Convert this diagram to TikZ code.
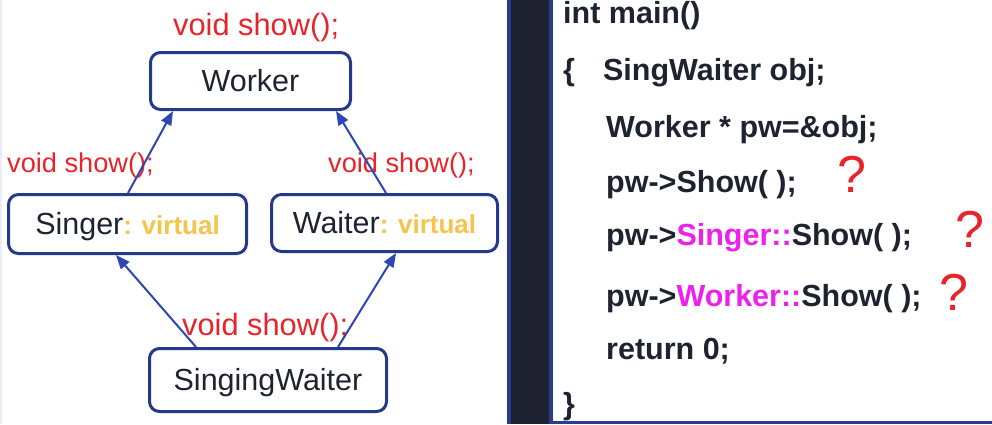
\documentclass[tikz,border=0pt]{standalone}
\usepackage{fontspec}
\setmainfont{Liberation Sans}
\usetikzlibrary{arrows.meta}
\definecolor{boxblue}{RGB}{38,56,140}
\definecolor{arrblue}{RGB}{45,70,180}
\definecolor{labred}{RGB}{232,36,42}
\definecolor{virtyel}{RGB}{245,196,74}
\definecolor{codemag}{RGB}{238,32,238}
\definecolor{txtdark}{RGB}{30,35,48}
\definecolor{banddark}{RGB}{30,34,46}
\definecolor{bandblue}{RGB}{42,58,144}
\definecolor{edgegray}{RGB}{236,236,246}
\tikzset{
 classbox/.style={draw=boxblue, line width=3pt, rounded corners=10pt, fill=white, inner sep=0pt,
   text=txtdark, font=\fontsize{30.5}{36}\selectfont, text height=21.8pt, text depth=0pt},
 inh/.style={draw=arrblue, line width=2pt, -{Triangle[length=14pt,width=11pt]}},
 redlab/.style={anchor=base west, inner sep=0pt, text=labred},
 codeline/.style={anchor=base west, inner sep=0pt, text=txtdark, font=\fontsize{30.5}{36}\selectfont\bfseries},
 qmark/.style={anchor=base west, inner sep=0pt, text=labred, font=\fontsize{52}{60}\selectfont},
}
\newcommand{\virt}{{\color{virtyel}\fontsize{26}{30}\selectfont\bfseries: virtual}}
\begin{document}
\begin{tikzpicture}[x=1pt,y=-1pt]
\useasboundingbox (0,0) rectangle (992,424);
\fill[white] (0,0) rectangle (992,424);
% left faint edge
\fill[edgegray] (0,0) rectangle (2,424);
% dark band
\fill[bandblue] (507,0) rectangle (553,424);
\fill[banddark] (511,0) rectangle (549,424);
\fill[bandblue] (553,421) rectangle (992,424);

% class boxes
\node[classbox, minimum width=200pt, minimum height=57pt] (W) at (250.5,81) {Worker};
\node[classbox, minimum width=238pt, minimum height=59pt] (S) at (127.5,224) {Singer\virt};
\node[classbox, minimum width=226pt, minimum height=57pt] (A) at (384.5,223) {Waiter\virt};
\node[classbox, minimum width=237pt, minimum height=63pt] (SW) at (268,380) {SingingWaiter};

% red labels
\node[redlab, font=\fontsize{30.8}{36}\selectfont] (l1) at (173,35) {void show();};
\node[redlab, font=\fontsize{27.2}{32}\selectfont] (l2) at (7,172) {void show();};
\node[redlab, font=\fontsize{27.2}{32}\selectfont] (l3) at (328,172) {void show();};
\node[redlab, font=\fontsize{30.8}{36}\selectfont] (l4) at (182,335) {void show();};

% inheritance arrows
\draw[inh] ([xshift=0.5pt]S.north) -- ([xshift=-77.5pt]W.south);
\draw[inh] ([xshift=1.5pt]A.north) -- ([xshift=85.5pt]W.south);
\draw[inh] ([xshift=-72pt]SW.north) -- ([xshift=-11.5pt]S.south);
\draw[inh] ([xshift=70pt]SW.north) -- ([xshift=11.5pt]A.south);

% code
\node[codeline] (c1) at (563,23) {int main()};
\node[codeline] (c2) at (563,80) {\{\hspace{28pt}SingWaiter obj;};
\node[codeline] (c3) at (606,137) {Worker * pw=\&obj;};
\node[codeline] (c4) at (606,192) {pw->Show( );};
\node[codeline] (c5) at (606,245) {pw->{\color{codemag}Singer::}Show( );};
\node[codeline] (c6) at (606,306) {pw->{\color{codemag}Worker::}Show( );};
\node[codeline] (c7) at (606,359) {return 0;};
\node[codeline] (c8) at (563,414) {\}};

% question marks
\node[qmark] (q1) at (837,192) {?};
\node[qmark] (q2) at (955,247) {?};
\node[qmark] (q3) at (939,310) {?};
\end{tikzpicture}
\end{document}
